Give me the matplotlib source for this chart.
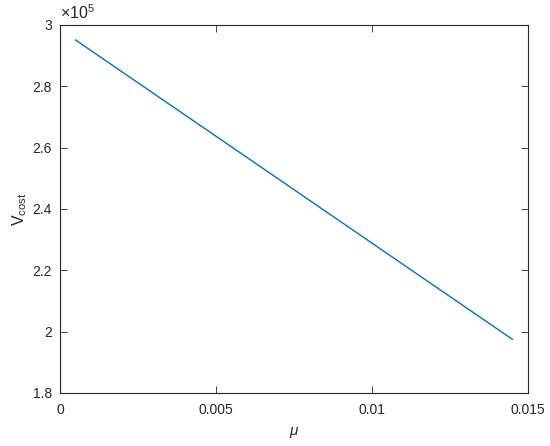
import matplotlib
matplotlib.use('Agg')
import matplotlib.pyplot as plt
from matplotlib.ticker import FuncFormatter

plt.rcParams['font.family'] = ['Liberation Sans', 'DejaVu Sans']
plt.rcParams['mathtext.fontset'] = 'custom'
plt.rcParams['mathtext.rm'] = 'Liberation Sans'
plt.rcParams['mathtext.it'] = 'Liberation Sans:italic'

mu = [0.0005, 0.0145]
v_cost = [2.951e5, 1.975e5]
xticks = [0, 0.005, 0.01, 0.015]
yticks = [1.8e5, 2.0e5, 2.2e5, 2.4e5, 2.6e5, 2.8e5, 3.0e5]

fig = plt.figure(figsize=(5.5, 4.46), dpi=100)
ax = fig.add_axes([60/550, 1 - 393/446, 468/550, 368/446])
ax.plot(mu, v_cost, color='#0072BD', lw=1)
ax.set_xlim(0, 0.015)
ax.set_ylim(1.8e5, 3.0e5)
ax.set_xticks(xticks)
ax.set_xticklabels(['0', '0.005', '0.01', '0.015'])
ax.set_yticks(yticks)
ax.yaxis.set_major_formatter(FuncFormatter(lambda v, p: '%g' % (v / 1e5)))
ax.tick_params(direction='in', length=5, width=0.6, labelsize=10, colors='#262626',
               top=True, right=True, labeltop=False, labelright=False)
ax.tick_params(axis='x', pad=7)
ax.tick_params(axis='y', pad=6)
for s in ax.spines.values():
    s.set_linewidth(0.8)
    s.set_color('#262626')
ax.text(0, 1.008, r'$\times$10$^5$', transform=ax.transAxes, fontsize=11.5,
        color='#262626', ha='left', va='bottom')
ax.set_xlabel(r'$\mu$', fontsize=11, color='#262626', labelpad=6)
ax.set_ylabel(r'V$_{\mathrm{cost}}$', fontsize=11.5, color='#262626', labelpad=2)
fig.savefig('out.png', dpi=100)
